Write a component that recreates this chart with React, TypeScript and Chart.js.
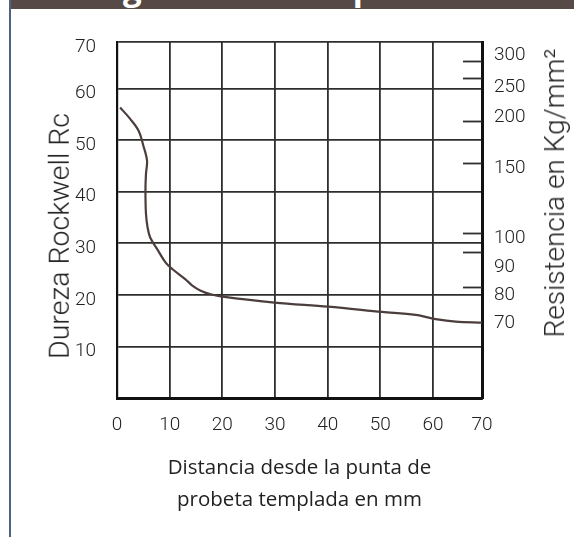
import { useEffect, useRef } from 'react';
import { Chart, registerables } from 'chart.js';

Chart.register(...registerables);

// Curva Jominy: distancia (mm) vs dureza (HRC)
const distanciaMm = [0.6, 2.5, 4.1, 5.0, 5.7, 5.5, 5.4, 5.5, 5.8, 6.3, 7.6, 9.2, 10.5, 13.0, 14.3, 15.9, 17.8, 19.7, 29.9, 40.1, 50.3, 56.7, 60.5, 64.3, 69.3];
const durezaRc = [56.3, 54.1, 51.8, 48.9, 46.0, 43.4, 40.2, 35.7, 33.1, 31.1, 28.9, 26.3, 25.0, 23.0, 21.8, 20.8, 20.1, 19.7, 18.5, 17.7, 16.7, 16.1, 15.3, 14.8, 14.6];

// Axis ticks
const distanciaTicks = [0, 10, 20, 30, 40, 50, 60, 70];
const durezaTicks = [10, 20, 30, 40, 50, 60, 70];
// Right scale (resistance), positioned on the hardness scale
const resistenciaLabels = ['300', '250', '200', '150', '100', '90', '80', '70'];
const resistenciaLabelRc = [66.4, 60.3, 54.5, 44.6, 31.0, 25.4, 19.9, 14.5];
const resistenciaMarkRc = [65.4, 62.0, 53.7, 45.6, 32.0, 28.3, 21.5];

// The drawn box ends slightly short of 70 on both axes
const X_EDGE = 69.3;
const Y_EDGE = 69;

const titulo = 'Diagrama de templabilidad';
const tituloY = 'Dureza Rockwell Rc';
const tituloY2 = 'Resistencia en Kg/mm²';
const tituloX = ['Distancia desde la punta de', 'probeta templada en mm'];

const GRID = '#2e2e2e';
const TEXT = '#222222';
const CURVE = '#4b3e3c';
const TICK_FONT = { family: 'Roboto', size: 19, weight: 300 as const };

const marksPlugin = {
  id: 'resistenciaMarks',
  afterDatasetsDraw(chart: any) {
    const { ctx, chartArea, scales } = chart;
    const s = scales.y2;
    ctx.save();
    ctx.strokeStyle = GRID;
    ctx.lineWidth = 1.8;
    resistenciaMarkRc.forEach((v) => {
      const y = Math.round(s.getPixelForValue(v)) + 0.5;
      ctx.beginPath();
      ctx.moveTo(chartArea.right - 19, y);
      ctx.lineTo(chartArea.right, y);
      ctx.stroke();
    });
    ctx.restore();
  },
};

export default function App() {
  const ref = useRef<HTMLCanvasElement>(null);

  useEffect(() => {
    if (!ref.current) return;
    const chart = new Chart(ref.current, {
      type: 'line',
      data: {
        datasets: [
          {
            data: distanciaMm.map((x, i) => ({ x, y: durezaRc[i] })),
            borderColor: CURVE,
            borderWidth: 2.2,
            pointRadius: 0,
            tension: 0.35,
            fill: false,
          },
        ],
      },
      options: {
        animation: false,
        responsive: false,
        layout: { padding: { top: 42, left: 0, right: 0, bottom: 0 } },
        plugins: { legend: { display: false }, tooltip: { enabled: false } },
        scales: {
          x: {
            type: 'linear',
            min: 0,
            max: X_EDGE,
            afterFit: (s: any) => { s.height = 139; },
            afterBuildTicks: (s: any) => {
              s.ticks = distanciaTicks.map((v) => ({ value: Math.min(v, X_EDGE) }));
            },
            ticks: {
              callback: (_v: any, i: number) => String(distanciaTicks[i]),
              font: TICK_FONT,
              color: TEXT,
              padding: 16,
              maxRotation: 0,
              autoSkip: false,
            },
            grid: { color: GRID, lineWidth: 1.8, drawTicks: false },
            border: { display: true, color: '#111', width: 3 },
            title: {
              display: true,
              text: tituloX,
              color: TEXT,
              font: { family: 'Open Sans', size: 20.5, lineHeight: 1.55 },
              padding: { top: 0, bottom: 21 },
            },
          },
          y: {
            type: 'linear',
            position: 'left',
            min: 0,
            max: Y_EDGE,
            afterFit: (s: any) => { s.width = 117; },
            afterBuildTicks: (s: any) => {
              s.ticks = durezaTicks.map((v) => ({ value: Math.min(v, Y_EDGE) }));
            },
            ticks: {
              callback: (_v: any, i: number) => String(durezaTicks[i]),
              font: TICK_FONT,
              color: TEXT,
              padding: 21,
              labelOffset: 5,
              autoSkip: false,
            },
            grid: { color: GRID, lineWidth: 1.8, drawTicks: false },
            border: { display: true, color: '#111', width: 2.2 },
          },
          y2: {
            type: 'linear',
            position: 'right',
            min: 0,
            max: Y_EDGE,
            afterFit: (s: any) => { s.width = 92; },
            afterBuildTicks: (s: any) => {
              s.ticks = resistenciaLabelRc.map((v) => ({ value: v }));
            },
            ticks: {
              callback: (_v: any, i: number) => resistenciaLabels[i],
              font: TICK_FONT,
              color: TEXT,
              padding: 12,
              autoSkip: false,
            },
            grid: { display: false, drawTicks: false },
            border: { display: true, color: '#111', width: 3 },
          },
        },
      },
      plugins: [marksPlugin],
    });
    return () => chart.destroy();
  }, []);

  return (
    <div style={{ position: 'fixed', left: 0, top: 0, width: 574, height: 537, background: '#fff', overflow: 'hidden' }}>
      <canvas ref={ref} width={574} height={537} style={{ position: 'absolute', left: 0, top: 0, width: 574, height: 537 }} />
      <div style={{ position: 'absolute', left: 9, top: 0, width: 2, height: 537, background: '#4f6380' }} />
      <div style={{ position: 'absolute', left: 11, top: 0, width: 563, height: 9, background: '#574a46', overflow: 'hidden' }}>
        <div style={{ position: 'absolute', left: 0, width: 563, top: -30, textAlign: 'center', color: '#fff', fontFamily: 'Open Sans', fontWeight: 700, fontSize: 33, lineHeight: '36px', whiteSpace: 'nowrap' }}>
          {titulo}
        </div>
      </div>
      <div style={{ position: 'absolute', left: 60, top: 236, transform: 'translate(-50%, -50%) rotate(-90deg)', whiteSpace: 'nowrap', fontFamily: 'Roboto', fontWeight: 300, fontSize: 28.5, color: TEXT, lineHeight: 1 }}>
        {tituloY}
      </div>
      <div style={{ position: 'absolute', left: 555, top: 193, transform: 'translate(-50%, -50%) rotate(-90deg)', whiteSpace: 'nowrap', fontFamily: 'Roboto', fontWeight: 300, fontSize: 28, color: TEXT, lineHeight: 1 }}>
        {tituloY2}
      </div>
    </div>
  );
}
